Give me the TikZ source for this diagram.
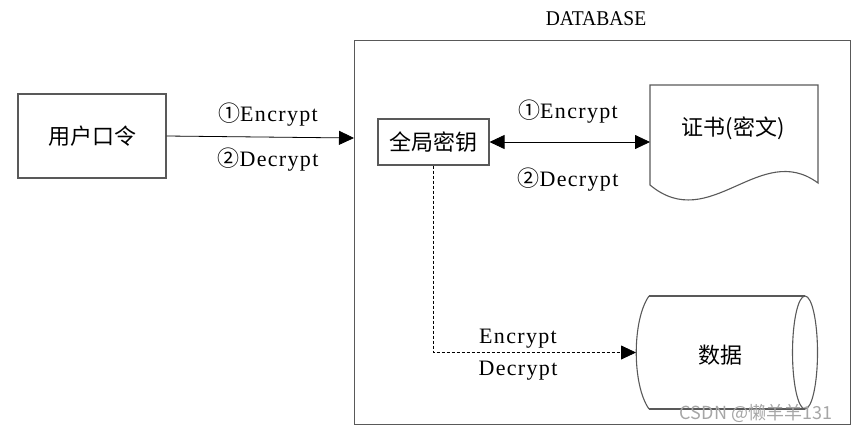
\documentclass[tikz,border=0pt]{standalone}
\usepackage{fontspec}
\setmainfont{Liberation Serif}
\newfontfamily\cjk{Noto Sans CJK SC}
\newfontfamily\lat[LetterSpace=6]{Liberation Serif}
\newfontfamily\latc[FakeStretch=0.93]{Liberation Serif}
\usetikzlibrary{arrows.meta}
\begin{document}
\begin{tikzpicture}[x=1pt,y=-1pt,
  shapeline/.style={draw=black!65,line width=1.1pt},
  boxnode/.style={shapeline,inner sep=0pt,font=\cjk\fontsize{22}{24}\selectfont},
  lbl/.style={font=\lat\fontsize{22}{24}\selectfont,inner sep=0pt},
  cn/.style={font=\cjk\fontsize{22}{24}\selectfont,inner sep=0pt},
  tip/.style={-{Triangle[length=15pt,width=14pt]}},
  conn/.style={draw=black,line width=0.8pt}]
\useasboundingbox (0,0) rectangle (856,432);
% database frame
\node[shapeline,minimum width=496pt,minimum height=384pt,anchor=north west,inner sep=0pt] (db) at (354,40) {};
\node[font=\latc\fontsize{21}{23}\selectfont,inner sep=0pt] (dbl) at (596,19) {DATABASE};
% user password
\node[boxnode,minimum width=148pt,minimum height=84pt] (user) at (92,136) {用户口令};
\node[boxnode,minimum width=111pt,minimum height=46pt] (key) at (433.5,142) {全局密钥};
% certificate document
\draw[shapeline] (650,85) -- (818,85) -- (818,183) .. controls (760,140) and (710,235) .. (650,185) -- cycle;
\node[cn] (cert) at (733,128) {证书(密文)};
\coordinate (certin) at (650,142);
% cylinder
\draw[shapeline] (649,296) -- (805,296);
\draw[shapeline] (649,409) -- (805,409);
\draw[shapeline] (649,296) .. controls (632,320) and (632,385) .. (649,409);
\draw[shapeline] (805,352.5) ellipse [x radius=12.5, y radius=56.5];
\node[cn] (data) at (720,355) {数据};
\coordinate (datain) at (636,352.5);
% connectors
\coordinate (dbin) at (db.west |- 0,138);
\draw[conn,tip] (user.east) -- (dbin);
\node[lbl] (l1) at (268,115) {{\cjk ①}Encrypt};
\node[lbl] (l2) at (268,160) {{\cjk ②}Decrypt};
\draw[conn,{Triangle[length=15pt,width=14pt]}-{Triangle[length=15pt,width=14pt]}] (key.east) -- (certin);
\node[lbl] (l3) at (568,112) {{\cjk ①}Encrypt};
\node[lbl] (l4) at (568,180) {{\cjk ②}Decrypt};
\draw[conn,tip,dashed,dash pattern=on 3pt off 2pt] (key.south) |- (datain);
\node[lbl] (l5) at (518,339) {Encrypt};
\node[lbl] (l6) at (518,371) {Decrypt};
% watermark
\node[font=\cjk\fontsize{18}{20}\selectfont,text=black!35,inner sep=0pt] (wm) at (756,413) {CSDN @懒羊羊131};
\end{tikzpicture}
\end{document}
